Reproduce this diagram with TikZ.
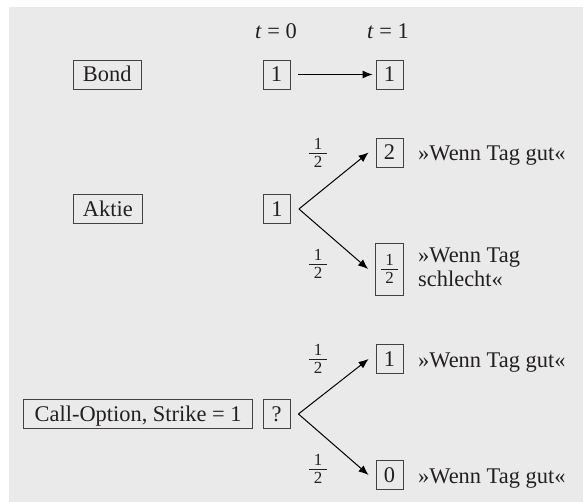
\documentclass[tikz,border=0pt]{standalone}
\usepackage{fontspec}
\setmainfont{Liberation Serif}
\usetikzlibrary{arrows.meta}
\definecolor{panel}{HTML}{EAEAEA}
\definecolor{ink}{HTML}{231F20}
% a small stacked one-half: numeral, bar, numeral
\newcommand\halffrac{\begingroup\fontsize{17}{19}\selectfont
  \vbox{\halign{\hskip4.5bp\hfil##\hfil\hskip4.5bp\cr
    1\cr
    \noalign{\kern3bp\hrule height 0.8bp\kern3bp}
    2\cr}}\endgroup}
\begin{document}
\begin{tikzpicture}[x=1bp,y=-1bp,
  font=\fontsize{22.5}{24}\selectfont, text=ink,
  frame/.style={draw=ink!85, line width=0.85bp},
  lbl/.style={frame, inner xsep=9.5bp, inner ysep=0pt, minimum height=29bp,
    text height=15bp, text depth=0pt},
  valbox/.style={frame, inner sep=0pt, minimum width=27bp, minimum height=29bp,
    text height=15bp, text depth=0pt},
  fracbox/.style={frame, inner sep=0pt, minimum width=28bp, minimum height=52bp},
  prob/.style={inner sep=0pt},
  note/.style={inner sep=0pt, anchor=base west},
  arr/.style={-{Latex[length=10bp,width=8bp]}, line width=1bp, draw=black}]
\useasboundingbox (0,0) rectangle (583,502);
\fill[panel] (9,7) rectangle (583,502);

% time axis
\node[anchor=base, inner sep=0pt] (t0) at (276,39) {\textit{t} = 0};
\node[anchor=base, inner sep=0pt] (t1) at (388,39) {\textit{t} = 1};

% bond
\node[lbl, anchor=west] (bondlbl) at (73,74.5) {Bond};
\node[valbox] (bond0) at (276.5,74.5) {1};
\node[valbox] (bond1) at (389.5,74.5) {1};
\draw[arr] ([xshift=8bp]bond0.east) -- ([xshift=-3bp]bond1.west);

% stock
\node[lbl, anchor=west] (aktielbl) at (73,209) {Aktie};
\node[valbox] (aktie0) at (277,209) {1};
\node[valbox] (aktieU) at (389.5,152.5) {2};
\node[fracbox] (aktieD) at (389.5,269) {\halffrac};
\coordinate (aktieB) at ([xshift=8bp]aktie0.east);
\draw[arr] (aktieB) -- ([xshift=-7bp]aktieU.west);
\draw[arr] (aktieB) -- ([xshift=-7bp]aktieD.west);
\node[prob] (pAU) at (318,153) {\halffrac};
\node[prob] (pAD) at (318,264) {\halffrac};
\node[note] (aktieUtxt) at (418,161) {»Wenn Tag gut«};
\node[anchor=west, align=left, inner sep=0pt] (aktieDtxt) at (418,267.5)
  {»Wenn Tag\\schlecht«};

% call option
\node[valbox] (callq) at (276.5,414) {?};
\node[lbl, anchor=east, inner xsep=11bp] (calllbl) at (253,414) {Call-Option, Strike = 1};
\node[valbox] (callU) at (389.5,359) {1};
\node[valbox] (callD) at (389.5,475) {0};
\coordinate (callB) at ([xshift=8bp]callq.east);
\draw[arr] (callB) -- ([xshift=-7bp]callU.west);
\draw[arr] (callB) -- ([xshift=-7bp]callD.west);
\node[prob] (pCU) at (318,359) {\halffrac};
\node[prob] (pCD) at (318,469) {\halffrac};
\node[note] (callUtxt) at (418,367) {»Wenn Tag gut«};
\node[note] (callDtxt) at (418,483) {»Wenn Tag gut«};
\end{tikzpicture}
\end{document}
